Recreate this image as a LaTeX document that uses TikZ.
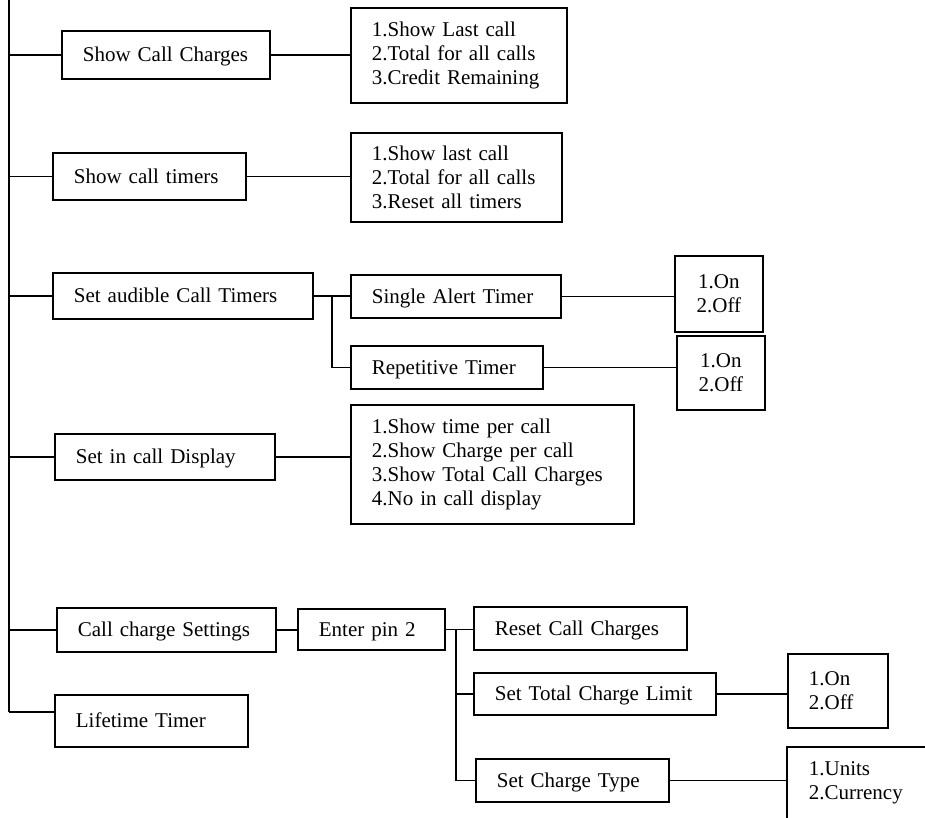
\documentclass[tikz,border=0pt]{standalone}
\usepackage{fontspec}
\setmainfont{Liberation Serif}
\begin{document}
\begin{tikzpicture}[x=1pt,y=-1pt,
  font=\fontsize{21}{24}\selectfont,
  line width=1.7pt,
  box/.style={draw, rectangle, anchor=north west, inner xsep=21pt, inner ysep=0pt, align=left},
  item/.style={box, text height=18pt, text depth=4pt},
  choice/.style={draw, rectangle, anchor=north west, inner xsep=0pt, inner ysep=0pt, align=center}]
\useasboundingbox (0,0) rectangle (925,817);

% main menu entries
\node[item, text width=166pt, minimum height=48pt] (scc)  at (61,30)  {Show Call Charges};
\node[item, text width=151pt, minimum height=47pt] (sct)  at (52,152) {Show call timers};
\node[item, text width=218pt, minimum height=46pt] (sact) at (52,272) {Set audible Call Timers};
\node[item, text width=178pt, minimum height=46pt] (sicd) at (54,433) {Set in call Display};
\node[item, text width=177pt, minimum height=44pt] (ccs)  at (56,607) {Call charge Settings};
\node[item, text width=151pt, minimum height=52pt] (lt)   at (54,694) {Lifetime Timer};

% second level
\node[box, text width=174pt, minimum height=95pt] (sccl) at (350,7)
  {1.Show Last call\\2.Total for all calls\\3.Credit Remaining};
\node[box, text width=169pt, minimum height=89pt] (sctl) at (350,132)
  {1.Show last call\\2.Total for all calls\\3.Reset all timers};
\node[item, text width=168pt, minimum height=43pt] (sat) at (350,274) {Single Alert Timer};
\node[item, text width=150pt, minimum height=43pt] (rt)  at (350,345) {Repetitive Timer};
\node[box, text width=241pt, minimum height=119pt] (sicdl) at (350,404)
  {1.Show time per call\\2.Show Charge per call\\3.Show Total Call Charges\\4.No in call display};
\node[item, text width=105pt, minimum height=41pt] (ep) at (297,608) {Enter pin 2};

% third level
\node[choice, text width=88pt, minimum height=76pt] (oo1) at (674,255) {1.On\\2.Off};
\node[choice, text width=88pt, minimum height=74pt] (oo2) at (676,335) {1.On\\2.Off};
\node[item, text width=171pt, minimum height=43pt] (rcc)  at (473,606) {Reset Call Charges};
\node[item, text width=200pt, minimum height=42pt] (stcl) at (473,672) {Set Total Charge Limit};
\node[item, text width=151pt, minimum height=43pt] (sct2) at (475,758) {Set Charge Type};
\node[box, text width=58pt, minimum height=74pt] (oo3) at (787,653) {1.On\\2.Off};
\node[box, draw=none, text width=118pt, minimum height=70pt] (units) at (787,747) {1.Units\\2.Currency};
\draw ([yshift=-40pt]units.south west) |- ([xshift=40pt]units.north east);

% trunk and connectors
\coordinate (ttop) at (9,0);
\coordinate (tbot) at (9,712);
\draw (ttop) -- (tbot);
\foreach \n in {scc,sct,sact,sicd,ccs}
  \draw (\n.west -| ttop) -- (\n.west);
\draw (tbot) -- (tbot -| lt.west);

\draw (scc.east) -- (scc.east -| sccl.west);
\draw (sct.east) -- (sct.east -| sctl.west);
\draw (sact.east) -- (sact.east -| sat.west);
\coordinate (fork1) at (332,0);
\draw (sact.east -| fork1) |- (rt.west);
\draw (sat.east) -- (sat.east -| oo1.west);
\draw (rt.east) -- (rt.east -| oo2.west);
\draw (sicd.east) -- (sicd.east -| sicdl.west);

\draw (ccs.east) -- (ccs.east -| ep.west);
\draw (ep.east) -- (ep.east -| rcc.west);
\coordinate (fork2) at (456,0);
\draw (ep.east -| fork2) |- (stcl.west);
\draw (ep.east -| fork2) |- (sct2.west);
\draw (stcl.east) -- (stcl.east -| oo3.west);
\draw (sct2.east) -- (sct2.east -| units.west);
\end{tikzpicture}
\end{document}
